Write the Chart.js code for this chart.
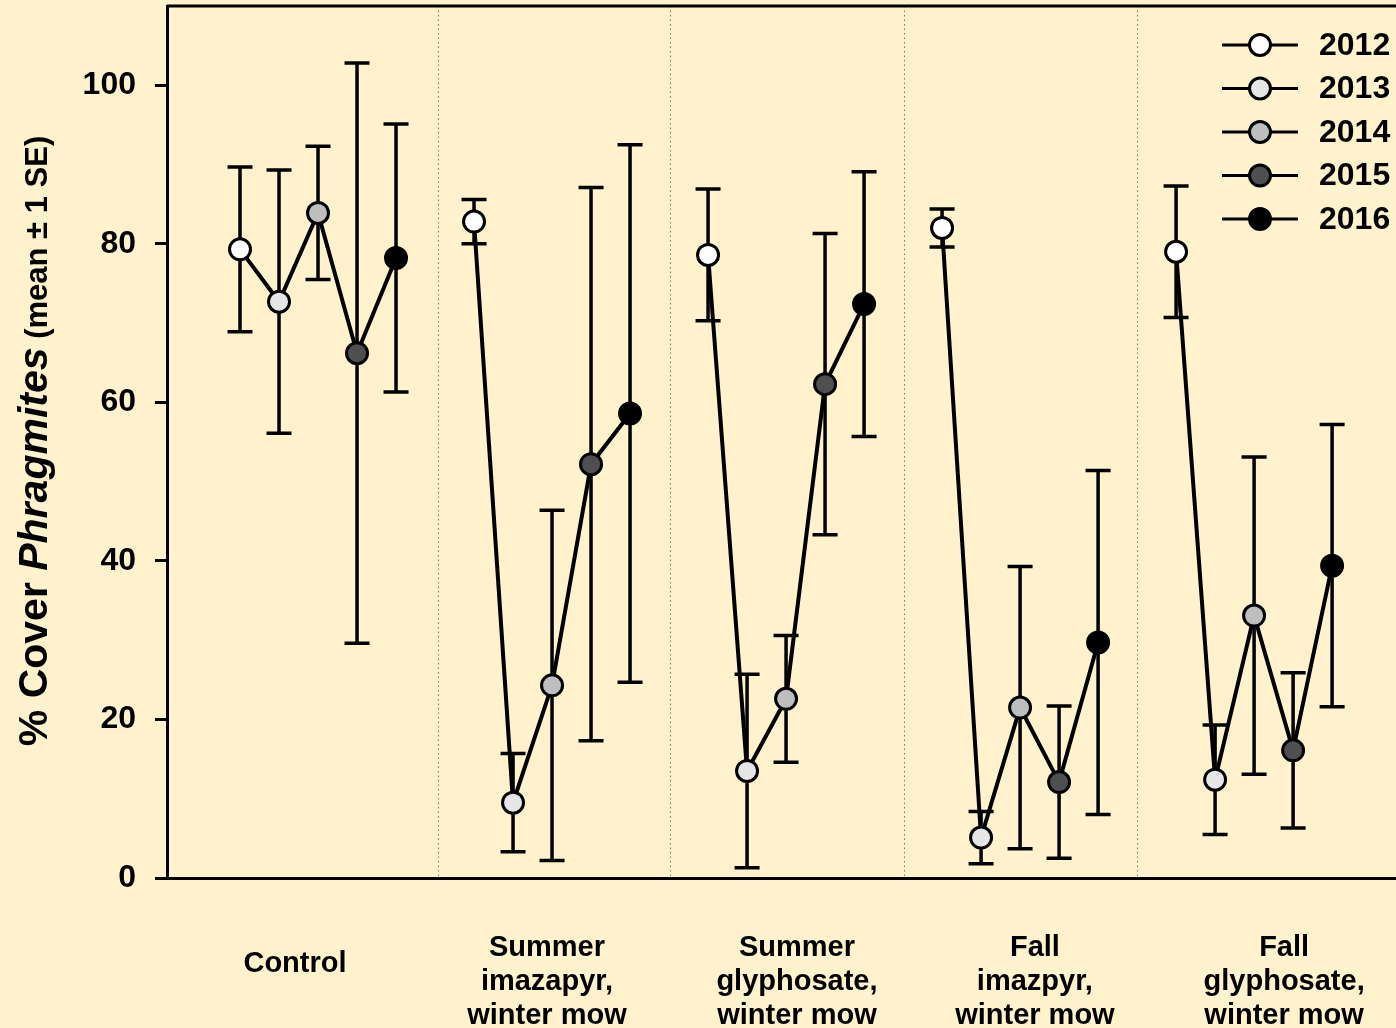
<!DOCTYPE html>
<html>
<head>
<meta charset="utf-8">
<script src="https://cdn.jsdelivr.net/npm/chart.js@4.4.1/dist/chart.umd.min.js"></script>
<style>
  html, body { margin: 0; padding: 0; background: #FFF2CC; overflow: hidden; }
  #wrap { width: 1440px; height: 1028px; }
</style>
</head>
<body>
<div id="wrap"><canvas id="graph_phrag" width="1440" height="1028"></canvas></div>
<script>
/*------------------------------*/
/*            DATA              */
/*------------------------------*/
var years = ['2012', '2013', '2014', '2015', '2016']
var treatments = [
  ['Control'],
  ['Summer', 'imazapyr,', 'winter mow'],
  ['Summer', 'glyphosate,', 'winter mow'],
  ['Fall', 'imazpyr,', 'winter mow'],
  ['Fall', 'glyphosate,', 'winter mow']
]
var yTicks = [0, 20, 40, 60, 80, 100]

// % cover, mean and 1 SE, one value per year
var meanControl = [79.3, 72.7, 83.9, 66.2, 78.2]
var seControl = [10.4, 16.6, 8.4, 36.6, 16.9]
var meanSummerImaz = [82.8, 9.5, 24.3, 52.2, 58.6]
var seSummerImaz = [2.8, 6.2, 22.1, 34.9, 33.9]
var meanSummerGly = [78.6, 13.5, 22.6, 62.3, 72.4]
var seSummerGly = [8.3, 12.2, 8.0, 19.0, 16.7]
var meanFallImaz = [82.0, 5.1, 21.5, 12.1, 29.7]
var seFallImaz = [2.4, 3.3, 17.8, 9.6, 21.7]
var meanFallGly = [79.0, 12.4, 33.1, 16.1, 39.4]
var seFallGly = [8.3, 6.9, 20.0, 9.8, 17.8]

var means = [meanControl, meanSummerImaz, meanSummerGly, meanFallImaz, meanFallGly]
var ses = [seControl, seSummerImaz, seSummerGly, seFallImaz, seFallGly]

/*------------------------------*/
/*           LAYOUT             */
/*------------------------------*/
var yearColors = ['#ffffff', '#e6e6e6', '#bebebe', '#4f4f4f', '#000000']
var GROUP_STEP = 6
var dividerX = [5.08, 11.03, 17.03, 23.0]
var labelX = [1.41, 7.87, 14.28, 20.38, 26.77]
var FONT = '"Liberation Sans", Arial, sans-serif'

Chart.defaults.font.family = FONT
Chart.defaults.color = '#000'

function xPos(g, i) { return g * GROUP_STEP + i }

var datasets = means.map(function (m, g) {
  return {
    label: treatments[g].join(' '),
    data: m.map(function (v, i) { return { x: xPos(g, i), y: v } }),
    borderColor: '#000',
    borderWidth: 4,
    pointRadius: 10.5,
    pointBorderWidth: 3,
    pointBorderColor: '#000',
    pointBackgroundColor: yearColors,
    tension: 0,
    fill: false
  }
})

/*------------------------------*/
/*           PLUGINS            */
/*------------------------------*/
var background = {
  id: 'background',
  beforeDraw: function (chart) {
    var ctx = chart.ctx
    ctx.save()
    ctx.fillStyle = '#FFF2CC'
    ctx.fillRect(0, 0, chart.width, chart.height)
    ctx.restore()
  }
}

var errorBars = {
  id: 'errorBars',
  beforeDatasetsDraw: function (chart) {
    var ctx = chart.ctx, xs = chart.scales.x, ys = chart.scales.y, a = chart.chartArea
    ctx.save()
    // dotted group separators
    ctx.strokeStyle = '#777'
    ctx.lineWidth = 1
    ctx.setLineDash([1.5, 3])
    dividerX.forEach(function (d) {
      var px = Math.round(xs.getPixelForValue(d)) + 0.5
      ctx.beginPath()
      ctx.moveTo(px, a.top)
      ctx.lineTo(px, a.bottom)
      ctx.stroke()
    })
    ctx.setLineDash([])
    // frame top / right
    ctx.strokeStyle = '#000'
    ctx.lineWidth = 3
    ctx.beginPath()
    ctx.moveTo(a.left, a.top)
    ctx.lineTo(a.right, a.top)
    ctx.lineTo(a.right, a.bottom)
    ctx.stroke()
    // error bars
    ctx.lineWidth = 3.5
    means.forEach(function (m, g) {
      m.forEach(function (v, i) {
        var px = xs.getPixelForValue(xPos(g, i))
        var top = ys.getPixelForValue(v + ses[g][i])
        var bot = ys.getPixelForValue(v - ses[g][i])
        ctx.beginPath()
        ctx.moveTo(px, top); ctx.lineTo(px, bot)
        ctx.moveTo(px - 12.5, top); ctx.lineTo(px + 12.5, top)
        ctx.moveTo(px - 12.5, bot); ctx.lineTo(px + 12.5, bot)
        ctx.stroke()
      })
    })
    ctx.restore()
  }
}

var texts = {
  id: 'texts',
  afterDraw: function (chart) {
    var ctx = chart.ctx, xs = chart.scales.x
    ctx.save()
    ctx.fillStyle = '#000'

    // treatment labels under the axis
    ctx.font = 'bold 29px ' + FONT
    ctx.textAlign = 'center'
    ctx.textBaseline = 'middle'
    treatments.forEach(function (lines, g) {
      var cx = xs.getPixelForValue(labelX[g])
      var y0 = lines.length === 1 ? 964 : 948
      lines.forEach(function (t, k) { ctx.fillText(t, cx, y0 + 34 * k) })
    })

    // legend
    years.forEach(function (yr, i) {
      var y = 45 + 43.5 * i
      ctx.strokeStyle = '#000'
      ctx.lineWidth = 3
      ctx.beginPath()
      ctx.moveTo(1222, y); ctx.lineTo(1298, y)
      ctx.stroke()
      ctx.beginPath()
      ctx.arc(1260, y, 10.5, 0, Math.PI * 2)
      ctx.fillStyle = yearColors[i]
      ctx.fill()
      ctx.stroke()
      ctx.fillStyle = '#000'
      ctx.font = 'bold 32px ' + FONT
      ctx.textAlign = 'left'
      ctx.textBaseline = 'middle'
      ctx.fillText(yr, 1319, y + 1)
    })

    // y axis title, mixed fonts
    var parts = [
      { t: '% Cover ', f: 'bold 41px ' + FONT },
      { t: 'Phragmites', f: 'italic bold 41px ' + FONT },
      { t: ' (mean \u00b1 1 SE)', f: 'bold 31px ' + FONT }
    ]
    var total = 0
    parts.forEach(function (p) { ctx.font = p.f; p.w = ctx.measureText(p.t).width; total += p.w })
    ctx.translate(47, 441)
    ctx.rotate(-Math.PI / 2)
    ctx.textAlign = 'left'
    ctx.textBaseline = 'alphabetic'
    var x = -total / 2
    parts.forEach(function (p) { ctx.font = p.f; ctx.fillText(p.t, x, 0); x += p.w })
    ctx.restore()
  }
}

/*------------------------------*/
/*            CHART             */
/*------------------------------*/
var ctx_phrag = document.getElementById('graph_phrag').getContext('2d')

var config_phrag = {
  type: 'line',
  data: { datasets: datasets },
  options: {
    responsive: false,
    animation: false,
    layout: { autoPadding: false, padding: { top: 6, right: 10, bottom: 0, left: 0 } },
    plugins: {
      legend: { display: false },
      tooltip: { enabled: false }
    },
    scales: {
      x: {
        type: 'linear',
        min: -1.872,
        max: 30.51,
        grid: { display: false },
        ticks: { display: false },
        border: { color: '#000', width: 3 },
        afterFit: function (s) { s.height = 150; s.paddingLeft = 0; s.paddingRight = 0 }
      },
      y: {
        min: 0,
        max: 110,
        afterBuildTicks: function (s) { s.ticks = yTicks.map(function (v) { return { value: v } }) },
        ticks: { font: { size: 32, weight: 'bold' }, color: '#000', padding: 19 },
        grid: { drawOnChartArea: false, tickLength: 12, lineWidth: 3, color: '#000' },
        border: { color: '#000', width: 3 },
        afterFit: function (s) { s.width = 167; s.paddingTop = 0; s.paddingBottom = 0 }
      }
    }
  },
  plugins: [background, errorBars, texts]
}

var graph_phrag = new Chart(ctx_phrag, config_phrag)
</script>
</body>
</html>
